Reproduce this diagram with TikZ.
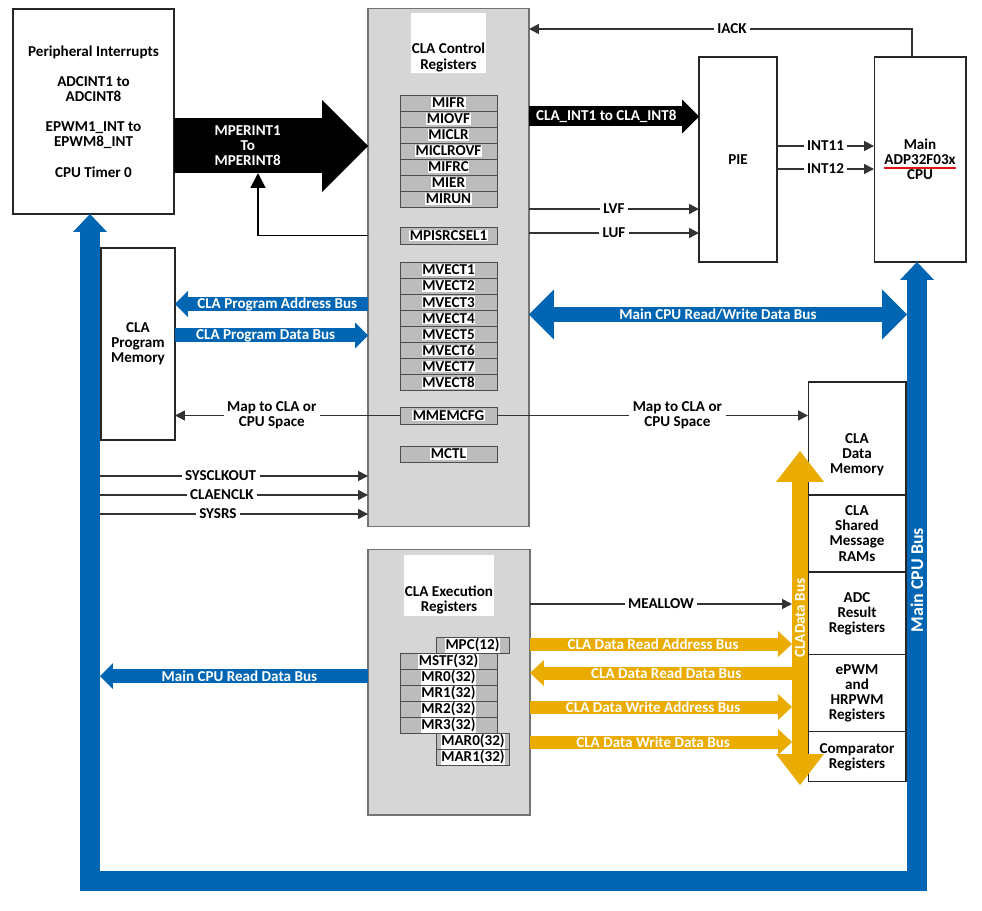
\documentclass[tikz,border=0pt]{standalone}
\usepackage{fontspec}
\setmainfont{Carlito}
\usepackage{tikz}
\usetikzlibrary{positioning, arrows.meta}

\definecolor{busblue}{RGB}{0,102,179}
\definecolor{busgold}{RGB}{234,172,0}
\definecolor{panelgray}{RGB}{214,214,214}
\definecolor{reggray}{RGB}{188,188,188}
\definecolor{squiggle}{RGB}{220,20,20}
\newcommand{\reghl}[1]{{\setlength{\fboxsep}{0.4pt}\colorbox{white}{#1}}}
\newcommand{\redul}[1]{\setbox0\hbox{#1}\rlap{\color{squiggle}\rule[-2.2pt]{\wd0}{0.8pt}}\box0}

\begin{document}
\begin{tikzpicture}[
    x=0.02cm, y=-0.02cm,
    every node/.style={font=\bfseries\fontsize{8.6}{8.6}\selectfont},
    box/.style={rectangle, draw=black!85, line width=0.6pt, fill=white,
                outer sep=0pt, inner sep=1pt, align=center},
    memcol/.style={box, minimum width=1.96cm},
    panel/.style={rectangle, draw=black!55, line width=0.6pt, fill=panelgray, outer sep=0pt},
    titlebg/.style={rectangle, fill=white, outer sep=0pt},
    reg/.style={rectangle, draw=black!70, line width=0.5pt, fill=reggray, outer sep=0pt,
                inner sep=0pt, minimum width=1.94cm, minimum height=0.32cm},
    xreg/.style={reg, minimum width=1.46cm},
    ctl/.style={draw=black!80, line width=0.9pt, -{Triangle[length=0.2cm, width=0.2cm]}},
    lbl/.style={fill=white, inner xsep=2pt, inner ysep=0.5pt, align=center},
    bustext/.style={text=white, inner sep=0pt, align=center},
    blkbus/.style={draw=black, line width=1.1cm,
                   -{Triangle[length=0.92cm, width=1.84cm, line width=0pt]}},
    intbus/.style={draw=black, line width=0.4cm,
                   -{Triangle[length=0.34cm, width=0.68cm, line width=0pt]}},
    bluebus/.style={draw=busblue, line width=0.28cm,
                    -{Triangle[length=0.26cm, width=0.52cm, line width=0pt]}},
    rwbus/.style={draw=busblue, line width=0.3cm,
                  {Triangle[length=0.5cm, width=1.0cm, line width=0pt]}-{Triangle[length=0.5cm, width=1.0cm, line width=0pt]}},
    goldbus/.style={draw=busgold, line width=0.26cm,
                    -{Triangle[length=0.28cm, width=0.52cm, line width=0pt]}},
    cdbus/.style={draw=busgold, line width=0.32cm,
                  {Triangle[length=0.62cm, width=0.96cm, line width=0pt]}-{Triangle[length=0.62cm, width=0.96cm, line width=0pt]}},
    cpubus/.style={draw=busblue, line width=0.4cm, line join=miter,
                   {Triangle[length=0.36cm, width=0.68cm, line width=0pt]}-{Triangle[length=0.36cm, width=0.68cm, line width=0pt]}}
]
\path[use as bounding box] (0,0) rectangle (982,911);

% sources on the left
\node[box, minimum width=3.22cm, minimum height=4.1cm] (periph) at (93.5,111.5)
    {Peripheral Interrupts\\[0.3cm]ADCINT1 to\\ADCINT8\\[0.3cm]EPWM1\_INT to\\EPWM8\_INT\\[0.3cm]CPU Timer 0};
\node[box, minimum width=1.48cm, minimum height=3.84cm] (pmem) at (138,344) {CLA\\Program\\Memory};

% control register panel
\node[panel, minimum width=3.22cm, minimum height=10.38cm] (ctrl) at (448.5,267.5) {};
\node[titlebg, minimum width=1.5cm, minimum height=1.2cm] (ctrlbg) at (448.5,43) {};
\node[align=center] (ctrltitle) at (448.5,57.5) {CLA Control\\Registers};
\node[reg] (mifr) at (448.5,103) {\reghl{MIFR}};
\node[reg, below=0pt of mifr] (miovf) {\reghl{MIOVF}};
\node[reg, below=0pt of miovf] (miclr) {\reghl{MICLR}};
\node[reg, below=0pt of miclr] (miclrovf) {\reghl{MICLROVF}};
\node[reg, below=0pt of miclrovf] (mifrc) {\reghl{MIFRC}};
\node[reg, below=0pt of mifrc] (mier) {\reghl{MIER}};
\node[reg, below=0pt of mier] (mirun) {\reghl{MIRUN}};
\node[reg, minimum height=0.34cm] (mpisrc) at (448.5,235.5) {\reghl{MPISRCSEL1}};
\node[reg, minimum height=0.322cm] (mvect1) at (448.5,270) {\reghl{MVECT1}};
\node[reg, minimum height=0.322cm, below=0pt of mvect1] (mvect2) {\reghl{MVECT2}};
\node[reg, minimum height=0.322cm, below=0pt of mvect2] (mvect3) {\reghl{MVECT3}};
\node[reg, minimum height=0.322cm, below=0pt of mvect3] (mvect4) {\reghl{MVECT4}};
\node[reg, minimum height=0.322cm, below=0pt of mvect4] (mvect5) {\reghl{MVECT5}};
\node[reg, minimum height=0.322cm, below=0pt of mvect5] (mvect6) {\reghl{MVECT6}};
\node[reg, minimum height=0.322cm, below=0pt of mvect6] (mvect7) {\reghl{MVECT7}};
\node[reg, minimum height=0.322cm, below=0pt of mvect7] (mvect8) {\reghl{MVECT8}};
\node[reg, minimum height=0.34cm] (mmemcfg) at (448.5,415.5) {\reghl{MMEMCFG}};
\node[reg] (mctl) at (448.5,454) {\reghl{MCTL}};

% execution register panel
\node[panel, minimum width=3.24cm, minimum height=5.32cm] (exec) at (449,682) {};
\node[titlebg, minimum width=1.8cm, minimum height=1.22cm] (execbg) at (449,585.5) {};
\node[align=center] (exectitle) at (449,600) {CLA Execution\\Registers};
\node[xreg] (mpc) at (472.5,645.5) {\reghl{MPC(12)}};
\node[reg] (mstf) at (448.5,661.5) {\reghl{MSTF(32)}};
\node[reg, below=0pt of mstf] (mr0) {\reghl{MR0(32)}};
\node[reg, below=0pt of mr0] (mr1) {\reghl{MR1(32)}};
\node[reg, below=0pt of mr1] (mr2) {\reghl{MR2(32)}};
\node[reg, below=0pt of mr2] (mr3) {\reghl{MR3(32)}};
\node[xreg] (mar0) at (473,741.5) {\reghl{MAR0(32)}};
\node[xreg, below=0pt of mar0] (mar1) {\reghl{MAR1(32)}};

% interrupt controller and main CPU
\node[box, minimum width=1.56cm, minimum height=4.1cm] (pie) at (738,159.5) {PIE};
\node[box, minimum width=1.84cm, minimum height=4.1cm] (cpu) at (920,159.5)
    {Main\\\redul{ADP32F03x}\\CPU};

% shared memory column
\node[memcol, minimum height=2.26cm] (dmem) at (857,438.5) {};
\node[align=center] (dmemtxt) at (857,455) {CLA\\Data\\Memory};
\node[memcol, minimum height=1.54cm, below=0pt of dmem] (msgram) {CLA\\Shared\\Message\\RAMs};
\node[memcol, minimum height=1.66cm, below=0pt of msgram] (adcres) {ADC\\Result\\Registers};
\node[memcol, minimum height=1.54cm, below=0pt of adcres] (epwm) {ePWM\\and\\HRPWM\\Registers};
\node[memcol, minimum height=1.0cm, below=0pt of epwm] (cmpr) {Comparator\\Registers};

% bus corners and signal rows
\coordinate (lbus) at (90,881);
\coordinate (rbus) at (917,881);
\coordinate (lbusedge) at (100,0);
\coordinate (rbusedge) at (907,0);
\coordinate (cdbtop) at (800,451);
\coordinate (cdbbot) at (800,785);
\coordinate (cdbedge) at (792,0);
\coordinate (iackup) at (912,29);
\coordinate (mpbot) at (258,173);
\coordinate (mperY) at (0,146);
\coordinate (clintY) at (0,116.5);
\coordinate (lvfY) at (0,209);
\coordinate (lufY) at (0,233);
\coordinate (int11Y) at (0,146);
\coordinate (int12Y) at (0,169);
\coordinate (paddrY) at (0,304);
\coordinate (pdataY) at (0,335.5);
\coordinate (rwY) at (0,314.5);
\coordinate (sysclkY) at (0,476);
\coordinate (claenY) at (0,495);
\coordinate (sysrsY) at (0,514);
\coordinate (mealY) at (0,604);
\coordinate (rdaddrY) at (0,644);
\coordinate (rddataY) at (0,673);
\coordinate (wraddrY) at (0,707);
\coordinate (wrdataY) at (0,742);
\coordinate (cpurdY) at (0,676);

% main CPU bus
\draw[cpubus] (periph.south -| lbus) -- (lbus) -- (rbus) -- (cpu.south -| rbus)
    node[bustext, pos=0.486, rotate=90, font=\bfseries\fontsize{10.2}{10}\selectfont] {Main CPU Bus};

% interrupts
\draw[blkbus] (periph.east |- mperY) -- (ctrl.west |- mperY) node[bustext, pos=0.38] {MPERINT1\\To\\MPERINT8};
\draw[draw=black, line width=1pt, -{Triangle[length=0.3cm, width=0.3cm]}] (ctrl.west |- mpisrc) -| (mpbot);
\draw[intbus] (ctrl.east |- clintY) -- (pie.west |- clintY) node[bustext, pos=0.455] {CLA\_INT1 to CLA\_INT8};
\draw[ctl] (cpu.north -| iackup) -- (iackup) -- (ctrl.east |- iackup) node[lbl, pos=0.47] {IACK};
\draw[ctl] (ctrl.east |- lvfY) -- (pie.west |- lvfY) node[lbl, midway] {LVF};
\draw[ctl] (ctrl.east |- lufY) -- (pie.west |- lufY) node[lbl, midway] {LUF};
\draw[ctl] (pie.east |- int11Y) -- (cpu.west |- int11Y) node[lbl, midway] {INT11};
\draw[ctl] (pie.east |- int12Y) -- (cpu.west |- int12Y) node[lbl, midway] {INT12};

% program and main CPU buses
\draw[bluebus] (ctrl.west |- paddrY) -- (pmem.east |- paddrY) node[bustext, pos=0.47] {CLA Program Address Bus};
\draw[bluebus] (pmem.east |- pdataY) -- (ctrl.west |- pdataY) node[bustext, pos=0.47] {CLA Program Data Bus};
\draw[rwbus] (ctrl.east |- rwY) -- (rbusedge |- rwY) node[bustext, midway] {Main CPU Read/Write Data Bus};
\draw[bluebus] (exec.west |- cpurdY) -- (lbusedge |- cpurdY) node[bustext, pos=0.48] {Main CPU Read Data Bus};

% memory mapping and clocks
\draw[ctl] (mmemcfg.west) -- (pmem.east |- mmemcfg) node[lbl, pos=0.57] {Map to CLA or\\CPU Space};
\draw[ctl] (mmemcfg.east) -- (dmem.west |- mmemcfg) node[lbl, pos=0.58] {Map to CLA or\\CPU Space};
\draw[ctl] (lbusedge |- sysclkY) -- (ctrl.west |- sysclkY) node[lbl, pos=0.45] {SYSCLKOUT};
\draw[ctl] (lbusedge |- claenY) -- (ctrl.west |- claenY) node[lbl, pos=0.455] {CLAENCLK};
\draw[ctl] (lbusedge |- sysrsY) -- (ctrl.west |- sysrsY) node[lbl, pos=0.44] {SYSRS};
\draw[ctl] (exec.east |- mealY) -- (cdbedge |- mealY) node[lbl, midway] {MEALLOW};

% CLA data buses
\draw[goldbus] (exec.east |- rdaddrY) -- (cdbedge |- rdaddrY) node[bustext, pos=0.47] {CLA Data Read Address Bus};
\draw[goldbus] (cdbedge |- rddataY) -- (exec.east |- rddataY) node[bustext, pos=0.48] {CLA Data Read Data Bus};
\draw[goldbus] (exec.east |- wraddrY) -- (cdbedge |- wraddrY) node[bustext, pos=0.47] {CLA Data Write Address Bus};
\draw[goldbus] (exec.east |- wrdataY) -- (cdbedge |- wrdataY) node[bustext, pos=0.47] {CLA Data Write Data Bus};
\draw[cdbus] (cdbbot) -- (cdbtop) node[bustext, midway, rotate=90] {CLAData Bus};
\end{tikzpicture}
\end{document}
